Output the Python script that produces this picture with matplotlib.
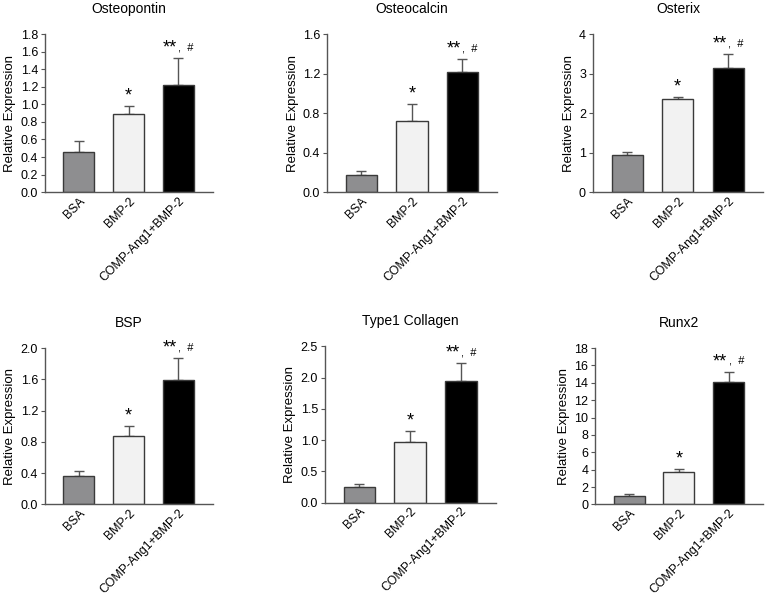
import matplotlib.pyplot as plt

plt.rcParams['font.family'] = ['Liberation Sans', 'DejaVu Sans']

groups = ["BSA", "BMP-2", "COMP-Ang1+BMP-2"]
bar_colors = ["#8e8e90", "#f2f2f2", "#000000"]

titles = ["Osteopontin", "Osteocalcin", "Osterix", "BSP", "Type1 Collagen", "Runx2"]
means = [
    [0.46, 0.89, 1.22],
    [0.17, 0.72, 1.22],
    [0.93, 2.36, 3.15],
    [0.36, 0.87, 1.59],
    [0.25, 0.97, 1.94],
    [0.95, 3.70, 14.1],
]
errors = [
    [0.12, 0.09, 0.31],
    [0.04, 0.17, 0.13],
    [0.08, 0.05, 0.35],
    [0.07, 0.13, 0.28],
    [0.05, 0.17, 0.29],
    [0.25, 0.35, 1.20],
]
yticks = [
    [0.0, 0.2, 0.4, 0.6, 0.8, 1.0, 1.2, 1.4, 1.6, 1.8],
    [0.0, 0.4, 0.8, 1.2, 1.6],
    [0, 1, 2, 3, 4],
    [0.0, 0.4, 0.8, 1.2, 1.6, 2.0],
    [0.0, 0.5, 1.0, 1.5, 2.0, 2.5],
    [0, 2, 4, 6, 8, 10, 12, 14, 16, 18],
]
tick_fmt = ["%.1f", "%.1f", "%d", "%.1f", "%.1f", "%d"]

# axes rectangles (left, bottom, width, height) in figure fractions
positions = [
    (0.0584, 0.678, 0.218, 0.265),
    (0.4247, 0.678, 0.221, 0.265),
    (0.770, 0.678, 0.221, 0.265),
    (0.0584, 0.155, 0.218, 0.262),
    (0.422, 0.158, 0.222, 0.262),
    (0.773, 0.155, 0.218, 0.262),
]

fig = plt.figure(figsize=(7.7, 5.97), dpi=100)
spine_col = "#555555"

for i in range(6):
    ax = fig.add_axes(positions[i])
    x = range(len(groups))
    ax.bar(x, means[i], width=0.62, color=bar_colors, edgecolor="#3a3a3a",
           linewidth=1.0, zorder=2)
    ax.errorbar(x, means[i], yerr=[[0, 0, 0], errors[i]], fmt="none",
                ecolor="#555555", elinewidth=1.0, capsize=3.5, capthick=1.0,
                zorder=1)
    ax.set_xlim(-0.68, 2.69)
    ax.set_ylim(yticks[i][0], yticks[i][-1])
    ax.set_yticks(yticks[i])
    ax.set_yticklabels([tick_fmt[i] % t for t in yticks[i]], fontsize=9)
    ax.set_xticks(list(x))
    ax.set_xticklabels(groups, rotation=45, ha="right", rotation_mode="anchor",
                       fontsize=8.8)
    ax.tick_params(axis="x", length=0, pad=2)
    ax.tick_params(axis="y", length=3, width=0.8, color=spine_col, pad=2)
    for s in ["top", "right"]:
        ax.spines[s].set_visible(False)
    for s in ["left", "bottom"]:
        ax.spines[s].set_color(spine_col)
        ax.spines[s].set_linewidth(1.0)
    ax.set_ylabel("Relative Expression", fontsize=9.5, labelpad=3)
    ax.set_title(titles[i], fontsize=10, pad=15.5)

    # significance marks
    ax.annotate("*", (1, means[i][1] + errors[i][1]), xytext=(0, 1),
                textcoords="offset points", ha="center", va="bottom", fontsize=13)
    top = means[i][2] + errors[i][2]
    ax.annotate("**", (2, top), xytext=(-1, 1), textcoords="offset points",
                ha="right", va="bottom", fontsize=13, annotation_clip=False)
    ax.annotate(",  #", (2, top), xytext=(0, 4), textcoords="offset points",
                ha="left", va="bottom", fontsize=8, annotation_clip=False)

fig.savefig("out.png", dpi=100)
